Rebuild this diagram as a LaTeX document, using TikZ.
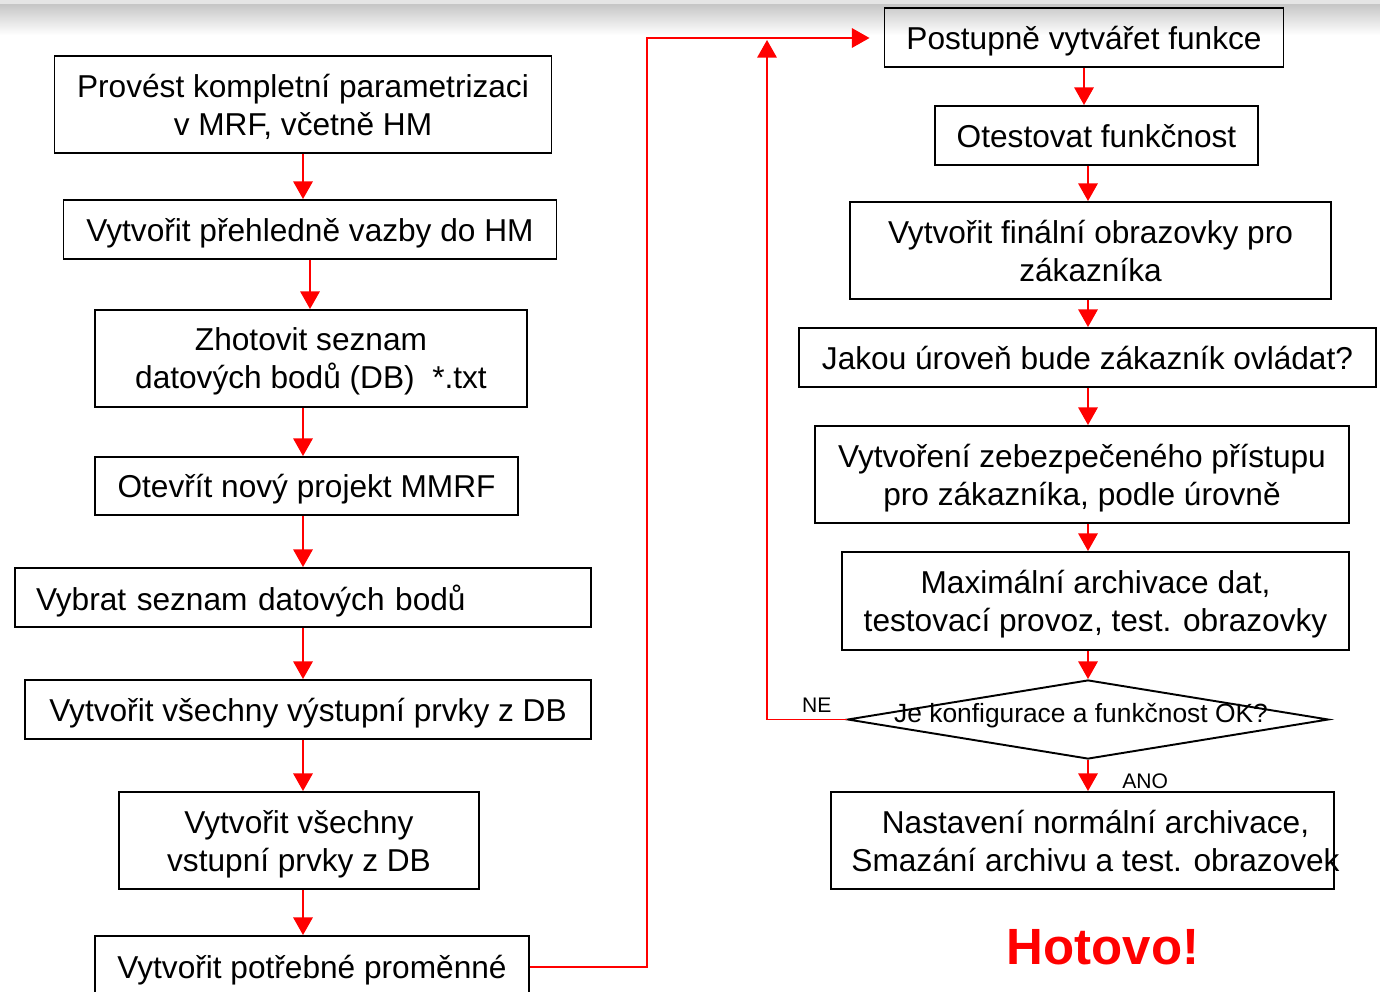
\documentclass[tikz,border=0pt]{standalone}
\usepackage{fontspec}
\setmainfont{Liberation Sans}
\usetikzlibrary{arrows.meta,shapes.geometric}

\tikzset{
  stepbox/.style={draw, line width=1.1pt, font=\fontsize{18}{21.6}\selectfont, align=center, inner sep=0pt, text depth=0pt},
  flow/.style={draw=red, line width=1.1pt, -{Triangle[length=10pt,width=11pt]}},
  smalltxt/.style={text=black, font=\fontsize{12}{14}\selectfont}
}

\begin{document}
\begin{tikzpicture}
  \useasboundingbox (0,0) rectangle (27.6,-19.84);
  \clip (0,0) rectangle (27.6,-19.84);
  \shade[top color=gray!45, bottom color=white] (0,-0.08) rectangle (27.6,-0.7);
  \fill[gray!20] (0,0) rectangle (27.6,-0.08);

  \node[stepbox, minimum width=9.94cm, minimum height=1.94cm] (n1) at (6.06,-2.09) {Provést kompletní parametrizaci\\v MRF, včetně HM};
  \node[stepbox, minimum width=9.86cm, minimum height=1.18cm] (n2) at (6.2,-4.59) {Vytvořit přehledně vazby do HM};
  \node[stepbox, minimum width=8.64cm, minimum height=1.94cm] (n3) at (6.22,-7.17) {Zhotovit seznam\\datových bodů (DB)\ \ *.txt};
  \node[stepbox, minimum width=8.46cm, minimum height=1.16cm] (n4) at (6.13,-9.72) {Otevřít nový projekt MMRF};
  \node[stepbox, text width=10.68cm, inner xsep=0.42cm, align=left, minimum height=1.18cm] (n5) at (6.06,-11.95) {Vybrat seznam datových bodů};
  \node[stepbox, minimum width=11.32cm, minimum height=1.18cm] (n6) at (6.16,-14.19) {Vytvořit všechny výstupní prvky z DB};
  \node[stepbox, minimum width=7.2cm, minimum height=1.94cm] (n7) at (5.98,-16.81) {Vytvořit všechny\\vstupní prvky z DB};
  \node[stepbox, minimum width=8.68cm, minimum height=1.24cm] (n8) at (6.24,-19.34) {Vytvořit potřebné proměnné};

  \node[stepbox, minimum width=7.98cm, minimum height=1.18cm] (r1) at (21.68,-0.75) {Postupně vytvářet funkce};
  \node[stepbox, minimum width=6.46cm, minimum height=1.18cm] (r2) at (21.93,-2.71) {Otestovat funkčnost};
  \node[stepbox, minimum width=9.62cm, minimum height=1.94cm] (r3) at (21.81,-5.01) {Vytvořit finální obrazovky pro\\zákazníka};
  \node[stepbox, minimum width=11.54cm, minimum height=1.18cm] (r4) at (21.75,-7.15) {Jakou úroveň bude zákazník ovládat?};
  \node[stepbox, minimum width=10.68cm, minimum height=1.94cm] (r5) at (21.64,-9.49) {Vytvoření zebezpečeného přístupu\\pro zákazníka, podle úrovně};
  \node[stepbox, minimum width=10.14cm, minimum height=1.96cm] (r6) at (21.91,-12.02) {Maximální archivace dat,\\testovací provoz, test. obrazovky};
  \node[draw, diamond, line width=1.1pt, minimum width=9.62cm, minimum height=1.58cm, inner sep=0pt,
        label={[font=\fontsize{15}{18}\selectfont, xshift=-0.14cm, yshift=0.07cm]center:Je konfigurace a funkčnost OK?}] (ok) at (21.76,-14.39) {};
  \node[stepbox, minimum width=10.06cm, minimum height=1.94cm,
        label={[font=\fontsize{18}{21.6}\selectfont, align=center, text depth=0pt, xshift=0.26cm]center:{Nastavení normální archivace,\\Smazání archivu a test. obrazovek}}] (r7) at (21.65,-16.81) {};
  \node[text=red, font=\bfseries\fontsize{29}{34}\selectfont] (done) at (22.06,-18.94) {Hotovo!};

  \coordinate (up) at (12.94,-0.76);
  \coordinate (back) at (15.34,-0.8);

  \path[every edge/.style=flow]
  (n1.south) edge (n1 |- n2.north)
  (n2.south) edge (n2 |- n3.north)
  (n1 |- n3.south) edge (n1 |- n4.north)
  (n5 |- n4.south) edge (n5 |- n5.north)
  (n5.south) edge (n5 |- n6.north)
  (n1 |- n6.south) edge (n1 |- n7.north)
  (n1 |- n7.south) edge (n1 |- n8.north)
  (r1.south) edge (r1 |- r2.north)
  (ok |- r2.south) edge (ok |- r3.north)
  (ok |- r3.south) edge (ok |- r4.north)
  (ok |- r4.south) edge (ok |- r5.north)
  (ok |- r5.south) edge (ok |- r6.north)
  (ok |- r6.south) edge (ok.north)
  (ok.south) edge node[pos=0.7, anchor=west, xshift=0.55cm, smalltxt] {ANO} (ok |- r7.north);

  \draw[flow, shorten >=0.28cm] (n8.east) -| (up) -- (up -| r1.west);
  \draw[flow] (ok.west) -- node[pos=0.375, above, smalltxt] {NE} (back |- ok.west) -- (back);
\end{tikzpicture}
\end{document}
